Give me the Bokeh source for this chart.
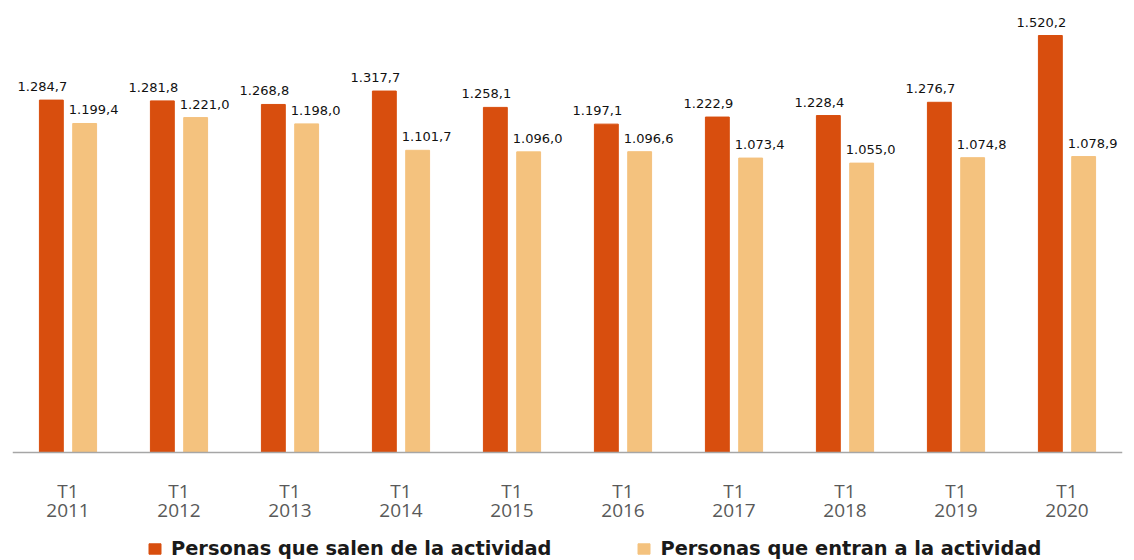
from bokeh.plotting import figure
from bokeh.models import ColumnDataSource, FactorRange, Range1d, Legend, LegendItem, Span
from bokeh.core.properties import value
from bokeh.transform import dodge
from bokeh.embed import file_html
from bokeh.resources import INLINE

years = ["2011", "2012", "2013", "2014", "2015", "2016", "2017", "2018", "2019", "2020"]
quarter = ["T1"] * len(years)
salen = [1284.7, 1281.8, 1268.8, 1317.7, 1258.1, 1197.1, 1222.9, 1228.4, 1276.7, 1520.2]
entran = [1199.4, 1221.0, 1198.0, 1101.7, 1096.0, 1096.6, 1073.4, 1055.0, 1074.8, 1078.9]

def fmt(v):
    s = f"{v:,.1f}"
    return s.replace(",", "X").replace(".", ",").replace("X", ".")

src = ColumnDataSource(dict(
    cat=years, q=quarter, zero=[0] * len(years), salen=salen, entran=entran,
    salen_lbl=[fmt(v) for v in salen], entran_lbl=[fmt(v) for v in entran],
))

C_SALEN = "#D84E0E"
C_ENTRAN = "#F4C27E"

p = figure(frame_width=1110, frame_height=560, x_range=FactorRange(*years, range_padding=0),
           y_range=Range1d(-393.7, 1647.8), output_backend="svg", toolbar_location=None,
           min_border_left=12, min_border_right=12, min_border_top=0, min_border_bottom=0)
p.outline_line_color = None
p.xgrid.visible = False
p.ygrid.visible = False
p.xaxis.visible = False
p.yaxis.visible = False
p.background_fill_color = "white"

r1 = p.vbar(x=dodge("cat", -0.15, range=p.x_range), top="salen", width=0.215, source=src,
            fill_color=C_SALEN, line_color=C_SALEN)
r2 = p.vbar(x=dodge("cat", 0.15, range=p.x_range), top="entran", width=0.215, source=src,
            fill_color=C_ENTRAN, line_color=C_ENTRAN)

p.add_layout(Span(location=0, dimension="width", line_color="#A6A6A6", line_width=1.5))

p.text(x=dodge("cat", -0.15, range=p.x_range), y="salen", text="salen_lbl", source=src,
       text_align="center", text_baseline="bottom", x_offset=-9, y_offset=-9,
       text_font_size="13px", text_font=value("DejaVu Sans"), text_color="#111111")
p.text(x=dodge("cat", 0.15, range=p.x_range), y="entran", text="entran_lbl", source=src,
       text_align="center", text_baseline="bottom", x_offset=9, y_offset=-9,
       text_font_size="13px", text_font=value("DejaVu Sans"), text_color="#111111")

# category labels (two lines)
p.text(x="cat", y="zero", text="q", source=src, text_align="center", text_baseline="middle",
       y_offset=38, text_font_size="19px", text_font=value("Open Sans"), text_color="#595959")
p.text(x="cat", y="zero", text="cat", source=src, text_align="center", text_baseline="middle",
       y_offset=58, text_font_size="19px", text_font=value("Open Sans"), text_color="#595959")

legend = Legend(items=[LegendItem(label="Personas que salen de la actividad", renderers=[r1]),
                       LegendItem(label="Personas que entran a la actividad", renderers=[r2])],
                orientation="horizontal", location=(135, 0))
legend.label_text_font_size = "19.4px"
legend.label_text_font_style = "bold"
legend.label_text_font = "DejaVu Sans"
legend.label_text_color = "#1A1A1A"
legend.glyph_width = 15
legend.glyph_height = 13
legend.spacing = 85
legend.padding = 0
legend.margin = 0
legend.border_line_color = None
legend.background_fill_alpha = 0
legend.label_standoff = 9
legend.label_height = 16
p.add_layout(legend)

open("out.html", "w").write(file_html(p, INLINE))
